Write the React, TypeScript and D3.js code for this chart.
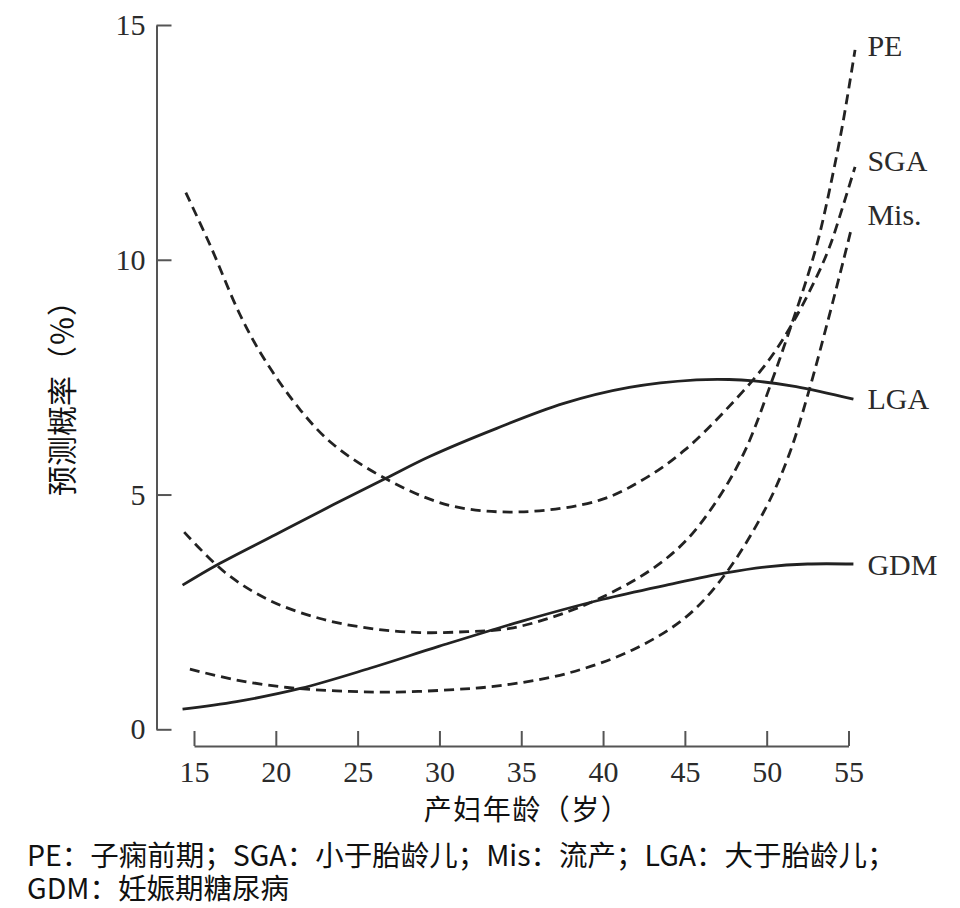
import React, { useEffect, useRef } from 'react'
import * as d3 from 'd3'

// 产妇年龄 (岁) -> 预测概率 (%)
const peAges = [14.4, 16.9, 19.6, 22.7, 25.75, 28.8, 31.7, 34.3, 37, 39.8, 42.9, 45.1, 47.1, 48.7, 50.3, 51.4, 52.5, 53.2, 54.0, 54.65, 55.4]
const peValues = [4.2, 3.34, 2.75, 2.36, 2.15, 2.06, 2.08, 2.15, 2.4, 2.79, 3.39, 4.03, 4.95, 5.95, 7.4, 8.5, 9.65, 10.5, 11.75, 12.9, 14.47]

const sgaAges = [14.5, 16, 17.8, 19.2, 21.5, 23.5, 26.7, 30.6, 34.9, 39.8, 42.6, 45, 47.5, 50, 51.5, 53.0, 53.85, 54.65, 55.4]
const sgaValues = [11.43, 10.3, 8.84, 7.94, 6.8, 6.07, 5.34, 4.77, 4.63, 4.88, 5.35, 5.95, 6.8, 7.8, 8.6, 9.6, 10.28, 11.13, 11.98]

const misAges = [14.75, 17.6, 20.7, 23.7, 26.8, 30.6, 33.7, 37.8, 41.8, 45.1, 47.5, 50.0, 51.4, 52.6, 53.65, 54.7, 55.2]
const misValues = [1.28, 1.05, 0.89, 0.82, 0.79, 0.84, 0.93, 1.19, 1.69, 2.4, 3.32, 4.75, 5.88, 7.23, 8.58, 10.0, 10.7]

const lgaAges = [14.3, 16.4, 20, 23.5, 26.7, 29.4, 33.5, 37.6, 41.6, 45.7, 47.7, 49.2, 51.8, 55.3]
const lgaValues = [3.07, 3.5, 4.15, 4.78, 5.34, 5.81, 6.41, 6.94, 7.28, 7.44, 7.45, 7.42, 7.3, 7.03]

const gdmAges = [14.3, 17.6, 21.5, 25.75, 30, 35, 40, 44, 47.5, 50, 52.5, 55.3]
const gdmValues = [0.43, 0.59, 0.87, 1.3, 1.77, 2.3, 2.77, 3.08, 3.33, 3.46, 3.52, 3.52]

const seriesNames = ['PE', 'SGA', 'Mis.', 'LGA', 'GDM']
const labelValues = [14.57, 12.12, 10.97, 7.04, 3.5]

const xTicks = [15, 20, 25, 30, 35, 40, 45, 50, 55]
const yTicks = [0, 5, 10, 15]

const xTitle = '产妇年龄（岁）'
const yTitle = '预测概率（％）'
const noteLines = ['PE：子痫前期；SGA：小于胎龄儿；Mis：流产；LGA：大于胎龄儿；', 'GDM：妊娠期糖尿病']

export default function App() {
  const ref = useRef<SVGSVGElement>(null)

  useEffect(() => {
    const svg = d3.select(ref.current)
    svg.selectAll('*').remove()

    const x = d3.scaleLinear().domain([15, 55]).range([194, 848.5])
    const y = d3.scaleLinear().domain([0, 15]).range([729.3, 25])

    const serif = '"Liberation Serif", "DejaVu Serif", serif'
    const sans = '"Noto Sans CJK SC", "Noto Sans", sans-serif'

    // axes, ticks point inward
    const yAxis = svg.append('g')
      .attr('transform', 'translate(156.5,0)')
      .call(d3.axisLeft(y).tickValues(yTicks).tickSize(-15).tickSizeOuter(0).tickPadding(11))
    const xAxis = svg.append('g')
      .attr('transform', 'translate(0,746)')
      .call(d3.axisBottom(x).tickValues(xTicks).tickSize(-15).tickSizeOuter(0).tickPadding(15))

    ;[yAxis, xAxis].forEach(g => {
      g.selectAll('path, line').attr('stroke', '#555').attr('stroke-width', 2)
      g.selectAll('text')
        .attr('fill', '#2b2b2b')
        .style('font-family', serif)
        .style('font-size', '30px')
    })

    const line = d3.line<[number, number]>()
      .x(d => x(d[0]))
      .y(d => y(d[1]))
      .curve(d3.curveCatmullRom.alpha(0.5))

    const series = [
      { ages: peAges, values: peValues, dashed: true },
      { ages: sgaAges, values: sgaValues, dashed: true },
      { ages: misAges, values: misValues, dashed: true },
      { ages: lgaAges, values: lgaValues, dashed: false },
      { ages: gdmAges, values: gdmValues, dashed: false },
    ]

    series.forEach((s, i) => {
      const pts = s.ages.map((a, j) => [a, s.values[j]] as [number, number])
      svg.append('path')
        .attr('d', line(pts))
        .attr('fill', 'none')
        .attr('stroke', '#222')
        .attr('stroke-width', 2.8)
        .attr('stroke-dasharray', s.dashed ? '10,6' : null)

      // series label at right end
      svg.append('text')
        .attr('x', x(55.3) + 14)
        .attr('y', y(labelValues[i]))
        .attr('dominant-baseline', 'central')
        .attr('fill', '#2b2b2b')
        .style('font-family', serif)
        .style('font-size', '30px')
        .text(seriesNames[i])
    })

    svg.append('text')
      .attr('x', 527)
      .attr('y', 820)
      .attr('text-anchor', 'middle')
      .attr('fill', '#111')
      .style('font-family', sans)
      .style('font-size', '28px')
      .style('letter-spacing', '1.5px')
      .text(xTitle)

    svg.append('text')
      .attr('transform', 'translate(73,391) rotate(-90)')
      .attr('text-anchor', 'middle')
      .attr('fill', '#111')
      .style('font-family', sans)
      .style('font-size', '30px')
      .text(yTitle)

    // footnote, two lines in one text block
    const note = svg.append('text')
      .attr('x', 27)
      .attr('y', 866)
      .attr('fill', '#111')
      .style('font-family', sans)
      .style('font-size', '28.5px')
    noteLines.forEach((t, i) => {
      note.append('tspan')
        .attr('x', 27)
        .attr('dy', i === 0 ? 0 : 33)
        .text(t)
    })
  }, [])

  return (
    <div style={{ position: 'absolute', left: 0, top: 0, background: '#fff' }}>
      <svg ref={ref} width={960} height={908} style={{ display: 'block' }} />
    </div>
  )
}
